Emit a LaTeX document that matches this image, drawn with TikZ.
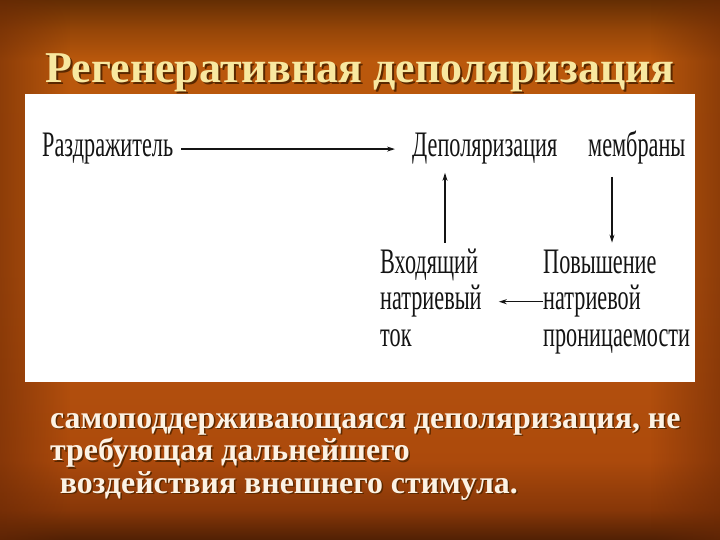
\documentclass[tikz,border=0pt]{standalone}
\usepackage{fontspec}
\usepackage{tikz}
\usetikzlibrary{arrows.meta,fadings}
\setmainfont{LiberationSerif}[Extension=.ttf, UprightFont=*-Regular, BoldFont=*-Bold,
  ItalicFont=*-Italic, BoldItalicFont=*-BoldItalic]
\newfontfamily\scanfont{LiberationSerif}[Extension=.ttf, UprightFont=*-Regular,
  FakeStretch=0.62]
\definecolor{bgbottom}{RGB}{80,32,4}
\definecolor{bglow}{RGB}{135,55,8}
\definecolor{bgwarm}{RGB}{172,74,12}
\definecolor{bgmid}{RGB}{186,86,14}
\definecolor{bghigh}{RGB}{186,88,12}
\definecolor{bgupper}{RGB}{150,70,8}
\definecolor{bgtop}{RGB}{100,46,4}
\definecolor{bgedge}{RGB}{105,40,5}
\definecolor{titleink}{RGB}{248,232,160}
\definecolor{titleshade}{RGB}{90,40,0}
\definecolor{slideink}{RGB}{252,242,228}
\definecolor{scanink}{RGB}{20,20,20}
\pgfdeclareverticalshading{slidebg}{100bp}{color(0bp)=(bgbottom); color(25bp)=(bgbottom);
  color(27.8bp)=(bglow); color(32.4bp)=(bgwarm); color(50bp)=(bgmid);
  color(69.4bp)=(bghigh); color(72.2bp)=(bgupper); color(75bp)=(bgtop); color(100bp)=(bgtop)}
\tikzfading[name=fadeleft, left color=transparent!0, right color=transparent!100]
\tikzfading[name=faderight, left color=transparent!100, right color=transparent!0]

\begin{document}
\begin{tikzpicture}[x=1bp, y=-1bp,
  titletext/.style={inner sep=0pt, text=titleink, font=\bfseries\fontsize{44.2}{50}\selectfont},
  scantext/.style={inner sep=0pt, text=scanink, align=left,
    font=\scanfont\fontsize{36}{36.5}\selectfont},
  slidetext/.style={inner sep=0pt, text=slideink, align=left,
    font=\bfseries\fontsize{32}{32.5}\selectfont},
  flowarrow/.style={-{Stealth[length=8bp,width=5bp]}, line width=1.2bp, draw=scanink}
]
\useasboundingbox (0,0) rectangle (720,540);
\fill[shading=slidebg] (0,0) rectangle (720,540);
\fill[bgedge, path fading=fadeleft, fill opacity=0.55] (0,0) rectangle (70,540);
\fill[bgedge, path fading=faderight, fill opacity=0.55] (650,0) rectangle (720,540);
\fill[white] (25,94) rectangle (695,382);
\node[titletext, text=titleshade, anchor=base west] (titleshadow) at (47,85) {Регенеративная деполяризация};
\node[titletext, anchor=base west] (title) at (45,83) {Регенеративная деполяризация};
\node[scantext, anchor=base west] (stimulus) at (42,157) {Раздражитель};
\node[scantext, anchor=base west] (depol) at (412,157) {Деполяризация};
\node[scantext, anchor=base west] (membrane) at (588,157) {мембраны};
\node[scantext, anchor=base west] (inward) at (380,346) {Входящий\\натриевый\\ток};
\node[scantext, anchor=base west] (perm) at (543,346) {Повышение\\натриевой\\проницаемости};
\draw[flowarrow, shorten <=8bp, shorten >=17bp] (stimulus.east) -- (stimulus.east -| depol.west);
\draw[flowarrow, shorten <=6bp, shorten >=8bp] ([xshift=65bp]inward.north west) -- ([xshift=65bp]inward.north west |- depol.south);
\draw[flowarrow, shorten <=12bp, shorten >=7bp] ([xshift=24bp]membrane.south west) -- ([xshift=24bp]membrane.south west |- perm.north);
\draw[flowarrow, shorten >=17bp] (perm.west) -- (perm.west -| inward.east);
\node[slidetext, text=titleshade, anchor=base west] (summaryshadow) at (51.5,494.5) {самоподдерживающаяся деполяризация, не\\требующая дальнейшего\\\hspace*{0.3em}воздействия внешнего стимула.};
\node[slidetext, anchor=base west] (summary) at (50,493) {самоподдерживающаяся деполяризация, не\\требующая дальнейшего\\\hspace*{0.3em}воздействия внешнего стимула.};
\end{tikzpicture}
\end{document}
